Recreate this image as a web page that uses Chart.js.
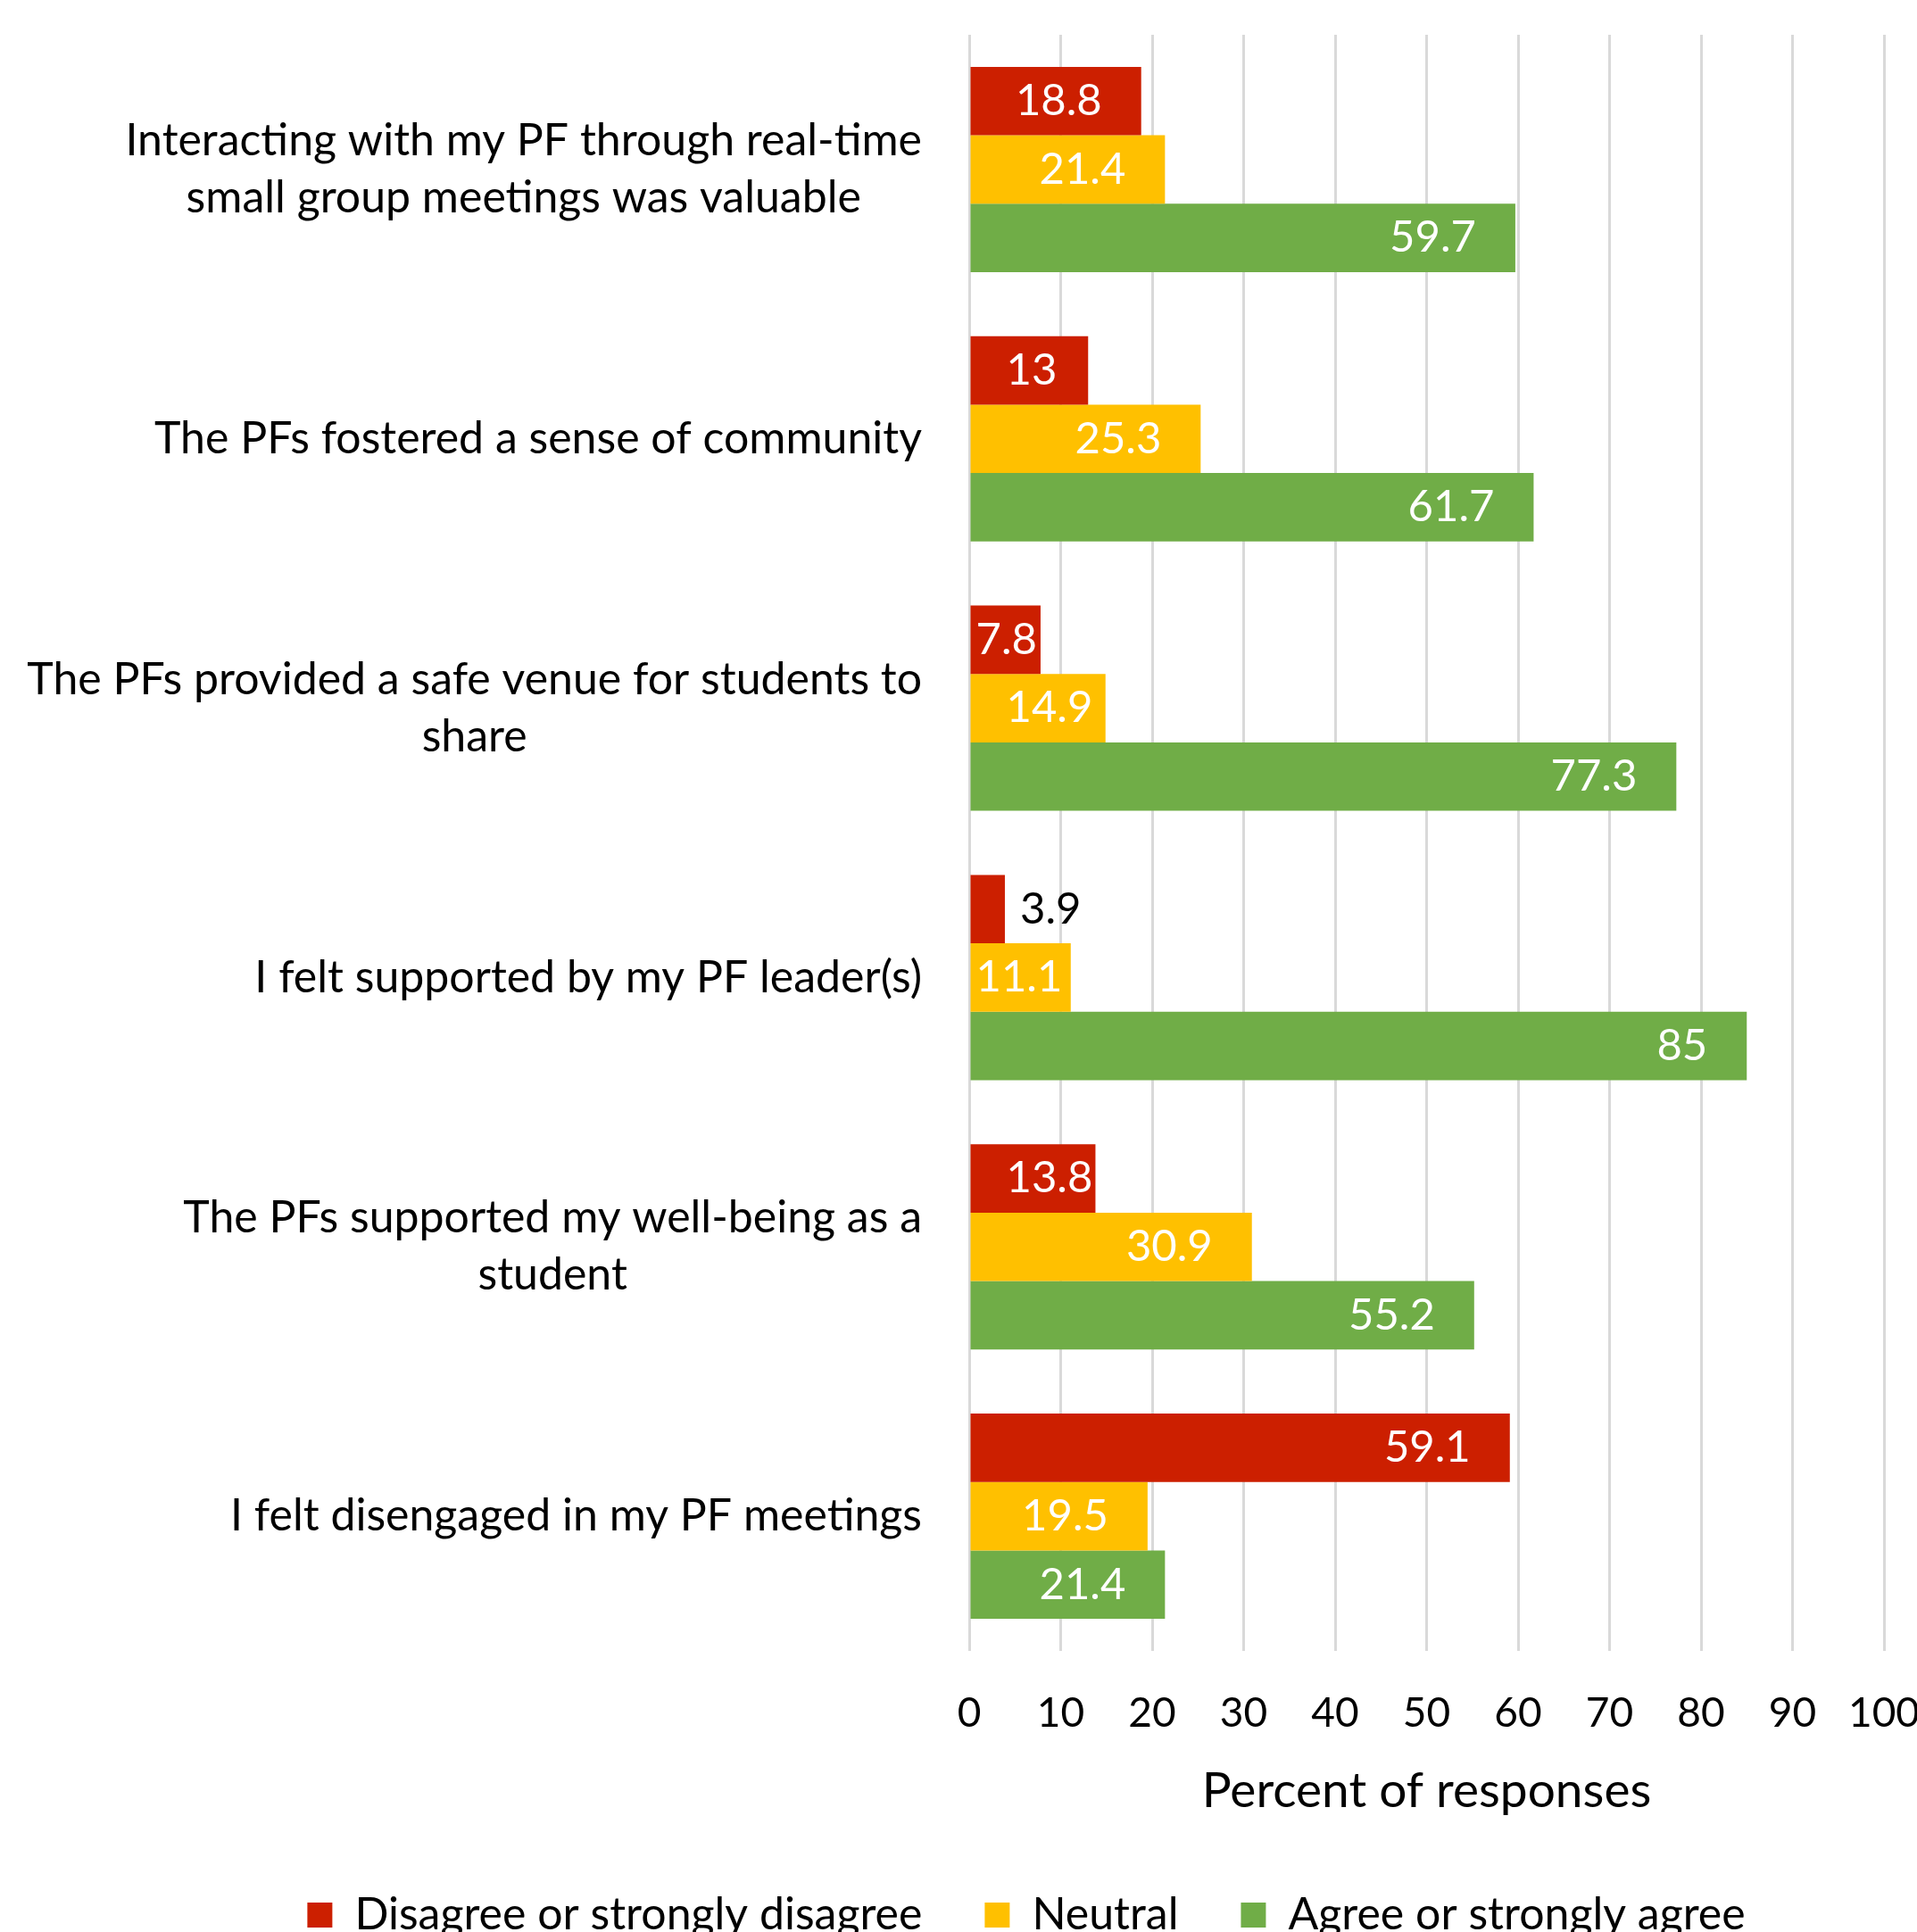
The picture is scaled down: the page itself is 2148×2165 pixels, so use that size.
<!DOCTYPE html>
<html>
<head>
<meta charset="utf-8">
<script src="https://cdn.jsdelivr.net/npm/chart.js@4.4.0/dist/chart.umd.min.js"></script>
<style>
  html, body { margin: 0; padding: 0; background: #fff; overflow: hidden; }
  #marco { width: 2148px; height: 2165px; overflow: hidden; }
  canvas { display: block; }
</style>
</head>
<body>
<div id="marco"><canvas id="grafico" width="2300" height="2200"></canvas></div>
<script>
// Datos
const categorias = [
  ['Interacting with my PF through real-time', 'small group meetings was valuable'],
  ['The PFs fostered a sense of community'],
  ['The PFs provided a safe venue for students to', 'share'],
  ['I felt supported by my PF leader(s)'],
  ['The PFs supported my well-being as a', 'student'],
  ['I felt disengaged in my PF meetings']
];
const desacuerdo = [18.8, 13, 7.8, 3.9, 13.8, 59.1];
const neutral = [21.4, 25.3, 14.9, 11.1, 30.9, 19.5];
const acuerdo = [59.7, 61.7, 77.3, 85, 55.2, 21.4];
const ticksX = [0, 10, 20, 30, 40, 50, 60, 70, 80, 90, 100];

const fuenteTicks = { family: 'Lato', size: 46 };
const fuenteCat = { family: 'Lato', size: 50 };
const fuenteValor = { family: 'Lato', size: 49 };
const fuenteTitulo = { family: 'Lato', size: 55 };
const fuenteLeyenda = { family: 'Lato', size: 50 };

// etiquetas de categoria: varias lineas centradas, bloque alineado a la derecha
const etiquetasY = {
  id: 'etiquetasY',
  afterDraw(chart) {
    const ctx = chart.ctx;
    const y = chart.scales.y;
    ctx.save();
    ctx.font = fuenteCat.size + 'px ' + fuenteCat.family;
    ctx.fillStyle = '#000';
    ctx.textAlign = 'center';
    ctx.textBaseline = 'middle';
    const derecha = chart.chartArea.left - 53;
    const interlinea = 64;
    categorias.forEach((lineas, i) => {
      const yc = y.getPixelForValue(i);
      const ancho = Math.max(...lineas.map(l => ctx.measureText(l).width));
      const xc = derecha - ancho / 2;
      lineas.forEach((l, j) => {
        ctx.fillText(l, xc, yc + (j - (lineas.length - 1) / 2) * interlinea);
      });
    });
    ctx.restore();
  }
};

// valores sobre las barras (dentro al final, o fuera si no cabe)
const valores = {
  id: 'valores',
  afterDatasetsDraw(chart) {
    const ctx = chart.ctx;
    ctx.save();
    ctx.font = fuenteValor.size + 'px ' + fuenteValor.family;
    ctx.textAlign = 'left';
    ctx.textBaseline = 'middle';
    chart.data.datasets.forEach((ds, d) => {
      chart.getDatasetMeta(d).data.forEach((barra, i) => {
        const txt = String(ds.data[i]);
        const w = ctx.measureText(txt).width;
        const ini = barra.base, fin = barra.x;
        let x = fin - 44 - w;
        let color = '#fff';
        if (x < ini + 40) x = ini + 40;
        if (x + w > fin) x = ini + 6;
        if (x + w > fin) { x = fin + 17; color = '#000'; }
        ctx.fillStyle = color;
        ctx.fillText(txt, x, barra.y);
      });
    });
    ctx.restore();
  }
};

new Chart(document.getElementById('grafico'), {
  type: 'bar',
  data: {
    labels: categorias,
    datasets: [
      { label: 'Disagree or strongly disagree', data: desacuerdo, backgroundColor: '#CC1F00' },
      { label: 'Neutral', data: neutral, backgroundColor: '#FFC000' },
      { label: 'Agree or strongly agree', data: acuerdo, backgroundColor: '#70AD47' }
    ]
  },
  options: {
    indexAxis: 'y',
    responsive: false,
    animation: false,
    devicePixelRatio: 1,
    layout: { padding: { left: 189, right: 189, top: 39, bottom: 19 } },
    datasets: { bar: { categoryPercentage: 0.762, barPercentage: 1 } },
    plugins: {
      legend: {
        position: 'bottom',
        labels: { font: fuenteLeyenda, color: '#000', boxWidth: 28, boxHeight: 28, padding: 70 }
      },
      tooltip: { enabled: false }
    },
    scales: {
      x: {
        min: 0,
        max: 100,
        grid: { color: '#D9D9D9', lineWidth: 3, drawTicks: false },
        border: { display: false },
        ticks: { font: fuenteTicks, color: '#000', padding: 43 },
        afterBuildTicks: s => { s.ticks = ticksX.map(v => ({ value: v })); },
        afterFit: s => { s.height = 201; },
        title: {
          display: true,
          text: 'Percent of responses',
          font: fuenteTitulo,
          color: '#000',
          padding: { top: 0, bottom: 11 }
        }
      },
      y: {
        grid: { display: false },
        border: { display: false },
        ticks: { display: false },
        afterFit: s => { s.width = 897; }
      }
    }
  },
  plugins: [etiquetasY, valores]
});
</script>
</body>
</html>
